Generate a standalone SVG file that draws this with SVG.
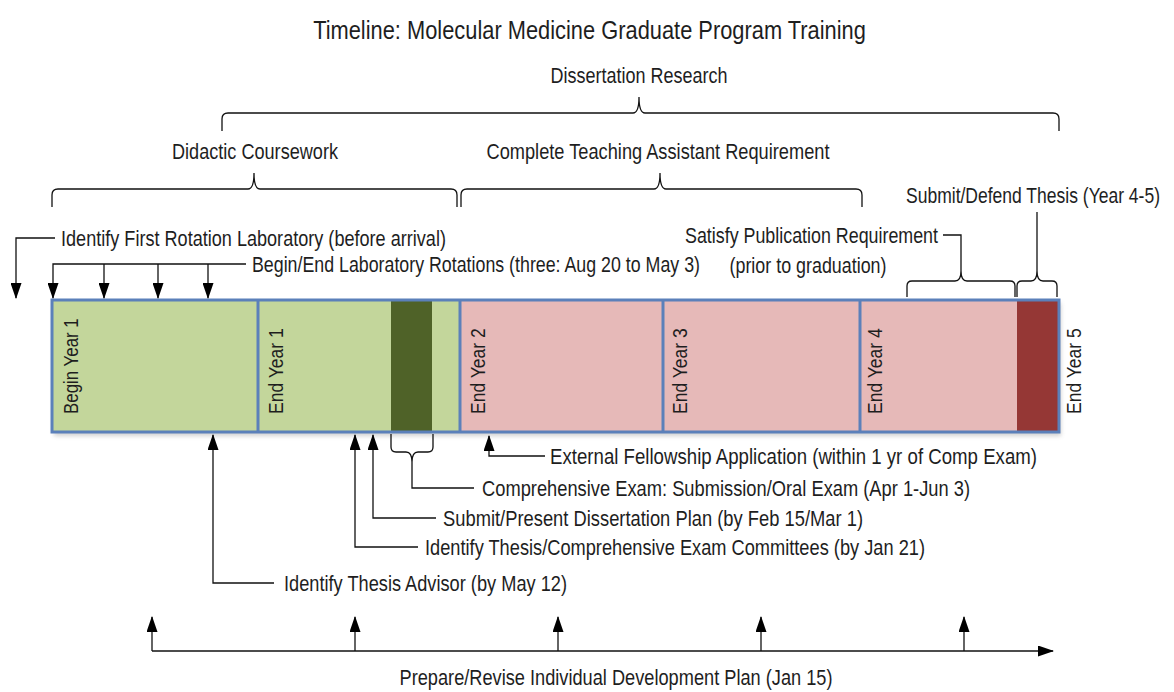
<svg xmlns="http://www.w3.org/2000/svg" width="1174" height="692" viewBox="0 0 1174 692">
<style>
text{font-family:"Liberation Sans",Arial,sans-serif;fill:#1e1e1e;font-size:21.5px}
.title{font-size:25px}
.yr{font-size:19.5px}
.ln{fill:none;stroke:#111;stroke-width:1.3}
.ar{fill:none;stroke:#111;stroke-width:1.3;marker-end:url(#ah)}
.div{stroke:#5b80ba;stroke-width:3}
</style>
<defs>
<marker id="ah" markerUnits="userSpaceOnUse" markerWidth="16" markerHeight="11" refX="15" refY="5.5" orient="auto">
<path d="M0,0 L16,5.5 L0,11 z" fill="#000"/>
</marker>
<filter id="sh" x="-5%" y="-10%" width="110%" height="130%"><feGaussianBlur stdDeviation="2"/></filter>
</defs>
<rect width="1174" height="692" fill="#fff"/>
<g id="title"><text class="title" transform="translate(589.5,39) scale(0.84,1)" text-anchor="middle" textLength="658" lengthAdjust="spacingAndGlyphs">Timeline: Molecular Medicine Graduate Program Training</text></g>

<g id="bar">
<rect x="54" y="303" width="1007" height="133" fill="#999" opacity="0.45" filter="url(#sh)"/>
<rect x="52" y="300" width="408" height="132" fill="#c3d69b"/>
<rect x="460" y="300" width="599" height="132" fill="#e6b9b8"/>
<rect x="391" y="300" width="41" height="132" fill="#4f6228"/>
<rect x="1017" y="300" width="41" height="132" fill="#953735"/>
<line class="div" x1="258" y1="300" x2="258" y2="432"/>
<line class="div" x1="460" y1="300" x2="460" y2="432"/>
<line class="div" x1="663" y1="300" x2="663" y2="432"/>
<line class="div" x1="860" y1="300" x2="860" y2="432"/>
<rect x="52" y="300" width="1007" height="132" fill="none" stroke="#5b80ba" stroke-width="3"/>
</g>
<g id="year-labels">
<text class="yr" transform="translate(78,414) rotate(-90) scale(0.84,1)" textLength="114" lengthAdjust="spacingAndGlyphs">Begin Year 1</text>
<text class="yr" transform="translate(283,414) rotate(-90) scale(0.84,1)" textLength="102" lengthAdjust="spacingAndGlyphs">End Year 1</text>
<text class="yr" transform="translate(485,414) rotate(-90) scale(0.84,1)" textLength="102" lengthAdjust="spacingAndGlyphs">End Year 2</text>
<text class="yr" transform="translate(687,414) rotate(-90) scale(0.84,1)" textLength="102" lengthAdjust="spacingAndGlyphs">End Year 3</text>
<text class="yr" transform="translate(882,414) rotate(-90) scale(0.84,1)" textLength="102" lengthAdjust="spacingAndGlyphs">End Year 4</text>
<text class="yr" transform="translate(1081,414) rotate(-90) scale(0.84,1)" textLength="102" lengthAdjust="spacingAndGlyphs">End Year 5</text>
</g>

<g id="connectors">
<path class="ln" d="M222,131 V119 Q222,113 228,113 H633 Q639,113 639,97 Q639,113 645,113 H1053 Q1059,113 1059,119 V131"/>
<path class="ln" d="M52,207 V195 Q52,189 58,189 H248 Q254,189 254,173 Q254,189 260,189 H451 Q457,189 457,195 V207"/>
<path class="ln" d="M461,207 V195 Q461,189 467,189 H654 Q660,189 660,173 Q660,189 666,189 H856 Q862,189 862,195 V207"/>
<path class="ln" d="M907,297 V286 Q907,281 912,281 H955 Q961,281 961,271 Q961,281 967,281 H1010 Q1015,281 1015,286 V297"/>
<path class="ln" d="M1017,297 V286 Q1017,281 1022,281 H1031 Q1037,281 1037,271 Q1037,281 1043,281 H1052 Q1057,281 1057,286 V297"/>
<path class="ln" d="M943,235 H961 V271"/>
<path class="ln" d="M1037,212 V271"/>
<path class="ar" d="M55,238 H16 V298"/>
<path class="ar" d="M246,264 H53 V298"/>
<path class="ar" d="M104,264 V298"/>
<path class="ar" d="M158,264 V298"/>
<path class="ar" d="M208,264 V298"/>
<path class="ln" d="M391,434 V447 Q391,452 396,452 H406 Q412,452 412,462 Q412,452 418,452 H428 Q433,452 433,447 V434"/>
<path class="ln" d="M412,462 V488 H474"/>
<path class="ar" d="M545,456 H489 V436"/>
<path class="ar" d="M436,518 H373 V435"/>
<path class="ar" d="M418,547 H355 V435"/>
<path class="ar" d="M274,583 H213 V435"/>
<path class="ar" d="M152,651 H1053"/>
<path class="ar" d="M152,651 V617"/>
<path class="ar" d="M355,651 V617"/>
<path class="ar" d="M558,651 V617"/>
<path class="ar" d="M761,651 V617"/>
<path class="ar" d="M964,651 V617"/>
</g>

<g id="phases">
<text transform="translate(639,83) scale(0.84,1)" text-anchor="middle" textLength="210.7" lengthAdjust="spacingAndGlyphs">Dissertation Research</text>
<text transform="translate(255,159) scale(0.84,1)" text-anchor="middle" textLength="197.6" lengthAdjust="spacingAndGlyphs">Didactic Coursework</text>
<text transform="translate(658,159) scale(0.84,1)" text-anchor="middle" textLength="408.3" lengthAdjust="spacingAndGlyphs">Complete Teaching Assistant Requirement</text>
</g>
<g id="milestones-top">
<text transform="translate(906,203) scale(0.84,1)" textLength="302.4" lengthAdjust="spacingAndGlyphs">Submit/Defend Thesis (Year 4-5)</text>
<text transform="translate(61,245.5) scale(0.84,1)" textLength="458.3" lengthAdjust="spacingAndGlyphs">Identify First Rotation Laboratory (before arrival)</text>
<text transform="translate(685,242.5) scale(0.84,1)" textLength="301.2" lengthAdjust="spacingAndGlyphs">Satisfy Publication Requirement</text>
<text transform="translate(808,272.5) scale(0.84,1)" text-anchor="middle" textLength="186.9" lengthAdjust="spacingAndGlyphs">(prior to graduation)</text>
<text transform="translate(252,272) scale(0.84,1)" textLength="533.3" lengthAdjust="spacingAndGlyphs">Begin/End Laboratory Rotations (three: Aug 20 to May 3)</text>
</g>
<g id="milestones-bottom">
<text transform="translate(550,463.5) scale(0.84,1)" textLength="579.8" lengthAdjust="spacingAndGlyphs">External Fellowship Application (within 1 yr of Comp Exam)</text>
<text transform="translate(482,495.5) scale(0.84,1)" textLength="581" lengthAdjust="spacingAndGlyphs">Comprehensive Exam: Submission/Oral Exam (Apr 1-Jun 3)</text>
<text transform="translate(443,525.5) scale(0.84,1)" textLength="500" lengthAdjust="spacingAndGlyphs">Submit/Present Dissertation Plan (by Feb 15/Mar 1)</text>
<text transform="translate(425,554.5) scale(0.84,1)" textLength="595.2" lengthAdjust="spacingAndGlyphs">Identify Thesis/Comprehensive Exam Committees (by Jan 21)</text>
<text transform="translate(284,590.5) scale(0.84,1)" textLength="336.9" lengthAdjust="spacingAndGlyphs">Identify Thesis Advisor (by May 12)</text>
</g>
<g id="idp">
<text transform="translate(616,685) scale(0.84,1)" text-anchor="middle" textLength="515.5" lengthAdjust="spacingAndGlyphs">Prepare/Revise Individual Development Plan (Jan 15)</text>
</g>
</svg>
